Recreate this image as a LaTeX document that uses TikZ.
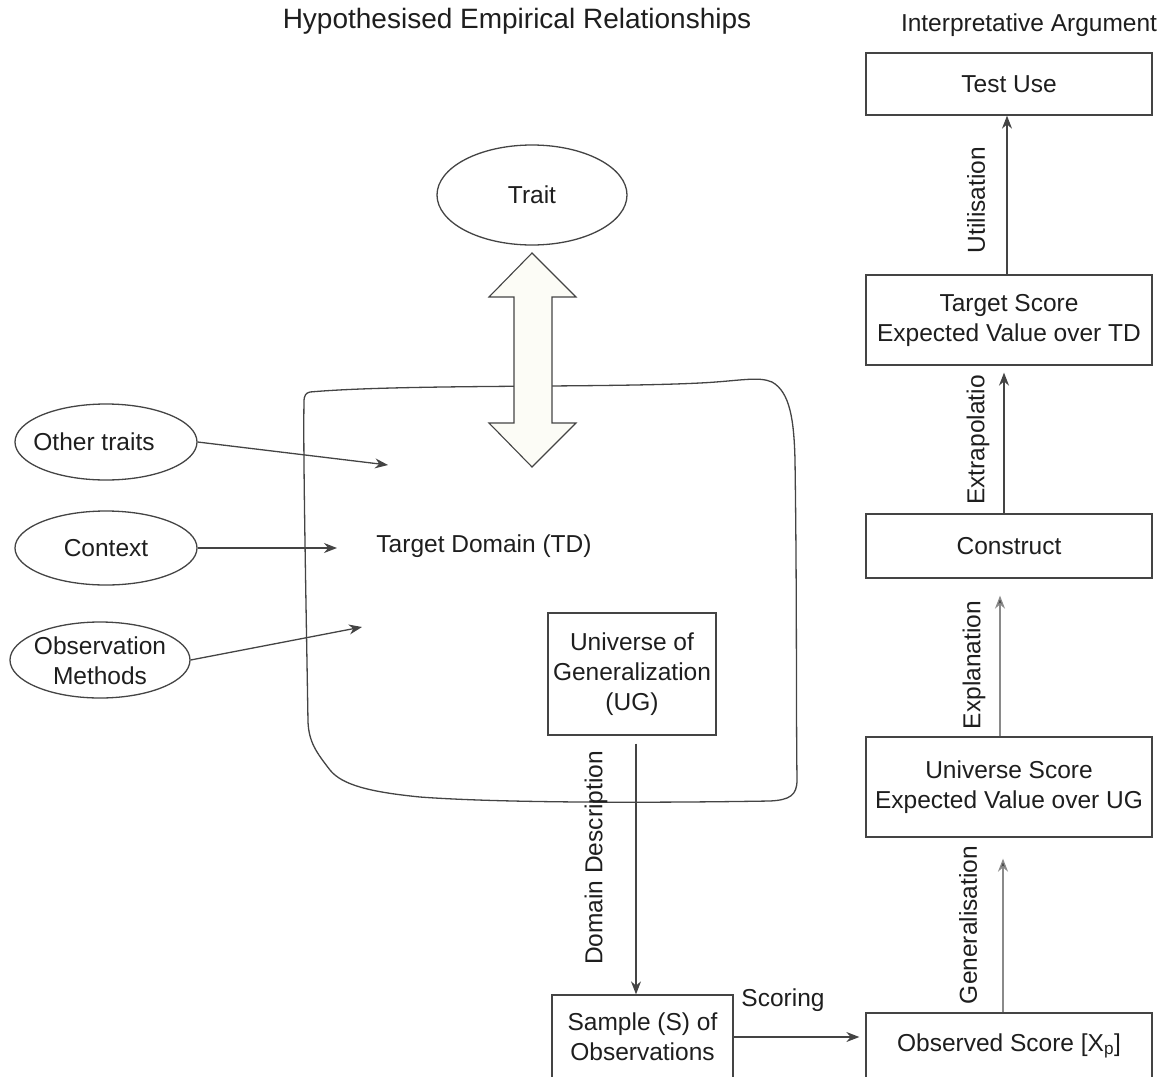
\documentclass[tikz,border=0pt]{standalone}
\usepackage{fontspec}
\setmainfont{Liberation Sans}
\usetikzlibrary{arrows.meta,shapes.geometric}
\definecolor{linegray}{HTML}{444444}
\definecolor{lightline}{HTML}{8A8A8A}
\definecolor{txt}{HTML}{1E1E1E}
\definecolor{arrfill}{HTML}{FCFCF6}
\tikzset{
  lbl/.style={font=\fontsize{24.5}{30}\selectfont, text=txt},
  box/.style={draw=linegray, line width=1.3pt, rectangle, inner sep=0pt, align=center, lbl},
  ell/.style={draw=linegray, line width=1.3pt, ellipse, inner sep=0pt, align=center, lbl},
  arr/.style={draw=linegray, line width=1.3pt, -{Stealth[length=13pt,width=10pt]}},
  lightarr/.style={draw=lightline, line width=1.3pt, -{Stealth[length=13pt,width=10pt,fill=linegray]}},
  vlbl/.style={lbl, rotate=90, inner sep=0pt},
}
\begin{document}
\begin{tikzpicture}[x=1pt,y=-1pt]
\useasboundingbox (0,0) rectangle (1164,1076);
% titles
\node[lbl, font=\fontsize{28}{32}\selectfont] (title) at (517,21) {Hypothesised Empirical Relationships};
\node[lbl] (title2) at (1029,25) {Interpretative Argument};

% hand-drawn target domain region
\draw[linegray, line width=1.3pt] (310,392)
  .. controls (400,384) and (600,388) .. (700,383)
  .. controls (740,381) and (758,376) .. (772,382)
  .. controls (790,392) and (794,420) .. (795,460)
  .. controls (797,600) and (796,700) .. (797,780)
  .. controls (797,795) and (790,800) .. (770,801)
  .. controls (650,803) and (500,803) .. (420,797)
  .. controls (370,792) and (342,785) .. (330,770)
  .. controls (316,752) and (309,742) .. (308,722)
  .. controls (306,600) and (303,450) .. (304,402)
  .. controls (304,395) and (306,393) .. (310,392);
\node[lbl] (td) at (484,546) {Target Domain (TD)};

% trait and double arrow
\node[ell, minimum width=190pt, minimum height=100pt] (trait) at (532,195) {Trait};
\draw[linegray, line width=1.1pt, fill=arrfill]
  (532,253) -- (576,297) -- (552,297) -- (552,423) -- (576,423) -- (532,467)
  -- (489,423) -- (514,423) -- (514,297) -- (489,297) -- cycle;

% left ellipses
\node[ell, minimum width=182pt, minimum height=76pt] (other) at (106,442) {};
\node[lbl] (othert) at (94,442) {Other traits};
\node[ell, minimum width=182pt, minimum height=74pt] (context) at (106,548) {Context};
\node[ell, minimum width=180pt, minimum height=76pt] (obs) at (100,660) {};
\node[lbl, align=center] (obst) at (100,661) {Observation\\Methods};
\coordinate (e1) at (388,465);
\coordinate (e2) at (337,548);
\coordinate (e3) at (362,627);
\draw[arr] (other.east) -- (e1);
\draw[arr] (context.east) -- (e2);
\draw[arr] (obs.east) -- (e3);

% UG and sample
\node[box, minimum width=168pt, minimum height=122pt] (ug) at (632,674) {Universe of\\Generalization\\(UG)};
\node[box, minimum width=181pt, minimum height=84pt] (sample) at (642.5,1037) {Sample (S) of\\Observations};
\draw[arr, shorten <=8pt] (ug.south -| 636,0) -- (sample.north -| 636,0);
\node[vlbl] (dd) at (596,858) {Domain Description};

% right column
\node[box, minimum width=286pt, minimum height=62pt] (test) at (1009,84) {Test Use};
\node[box, minimum width=286pt, minimum height=90pt] (target) at (1009,320) {Target Score\\Expected Value over TD};
\node[box, minimum width=286pt, minimum height=64pt] (construct) at (1009,546) {Construct};
\node[box, minimum width=286pt, minimum height=100pt] (universe) at (1009,787) {Universe Score\\Expected Value over UG};
\node[box, minimum width=286pt, minimum height=66pt] (observed) at (1009,1046) {Observed Score [X\textsubscript{p}]};

\draw[arr] (target.north -| 1007,0) -- (test.south -| 1007,0);
\node[vlbl] (util) at (976,200) {Utilisation};
\draw[arr, shorten >=7pt] (construct.north -| 1004,0) -- (target.south -| 1004,0);
\node[vlbl] (extra) at (978,440) {Extrapolatio};
\draw[lightarr, shorten >=17pt] (universe.north -| 1000,0) -- (construct.south -| 1000,0);
\node[vlbl] (expl) at (974,665) {Explanation};
\draw[lightarr, shorten >=21pt] (observed.north -| 1003,0) -- (universe.south -| 1003,0);
\node[vlbl] (gen) at (968,925) {Generalisation};

\draw[arr, shorten >=6pt] (sample.east) -- (observed.west |- sample.east);
\node[lbl] (scoring) at (783,1000) {Scoring};
\end{tikzpicture}
\end{document}
